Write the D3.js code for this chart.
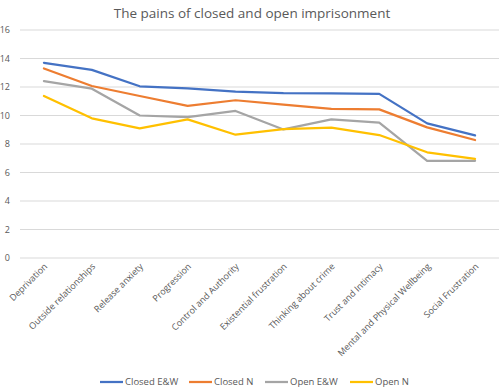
<!DOCTYPE html>
<html>
<head>
<meta charset="utf-8">
<script src="https://cdn.jsdelivr.net/npm/d3@7"></script>
<style>
  body { margin: 0; background: #fff; }
  text { font-family: "Open Sans", "Liberation Sans", sans-serif; }
</style>
</head>
<body>
<div id="chart"></div>
<script>
const categories = ["Deprivation", "Outside relationships", "Release anxiety", "Progression",
  "Control and Authority", "Existential frustration", "Thinking about crime",
  "Trust and Intimacy", "Mental and Physical Wellbeing", "Social Frustration"];

const closedEW = [13.7, 13.2, 12.05, 11.9, 11.67, 11.57, 11.55, 11.52, 9.45, 8.6];
const closedN = [13.3, 12.07, 11.37, 10.67, 11.07, 10.76, 10.46, 10.43, 9.17, 8.28];
const openEW = [12.42, 11.88, 10.0, 9.88, 10.32, 9.02, 9.73, 9.5, 6.82, 6.82];
const openN = [11.37, 9.8, 9.1, 9.73, 8.65, 9.05, 9.15, 8.63, 7.42, 6.95];

const yTicks = [0, 2, 4, 6, 8, 10, 12, 14, 16];

const series = [
  { name: "Closed E&W", values: closedEW, color: "#4472C4" },
  { name: "Closed N", values: closedN, color: "#ED7D31" },
  { name: "Open E&W", values: openEW, color: "#A5A5A5" },
  { name: "Open N", values: openN, color: "#FFC000" }
];

const width = 500, height = 388;

const svg = d3.select("#chart")
  .append("svg")
  .attr("width", width)
  .attr("height", height);

const x = d3.scalePoint()
  .domain(categories)
  .range([20, 499])
  .padding(0.5);

const y = d3.scaleLinear()
  .domain([0, 16])
  .range([258, 30]);

// title
svg.append("text")
  .attr("x", 252)
  .attr("y", 18)
  .attr("text-anchor", "middle")
  .attr("font-size", 13.5)
  .attr("fill", "#595959")
  .text("The pains of closed and open imprisonment");

// gridlines + y labels
svg.append("g")
  .selectAll("line")
  .data(yTicks)
  .enter().append("line")
  .attr("x1", 20)
  .attr("x2", 499)
  .attr("y1", d => y(d))
  .attr("y2", d => y(d))
  .attr("stroke", "#D9D9D9")
  .attr("stroke-width", 1);

svg.append("g")
  .selectAll("text")
  .data(yTicks)
  .enter().append("text")
  .attr("x", 10)
  .attr("y", d => y(d))
  .attr("dy", "0.35em")
  .attr("text-anchor", "end")
  .attr("font-size", 9)
  .attr("fill", "#595959")
  .text(d => d);

// x labels
svg.append("g")
  .selectAll("text")
  .data(categories)
  .enter().append("text")
  .attr("transform", d => `translate(${x(d) + 4},${y(0) + 9}) rotate(-45)`)
  .attr("text-anchor", "end")
  .attr("font-size", 9)
  .attr("fill", "#595959")
  .text(d => d);

// lines
const line = d3.line()
  .x((d, i) => x(categories[i]))
  .y(d => y(d));

svg.append("g")
  .selectAll("path")
  .data(series)
  .enter().append("path")
  .attr("d", d => line(d.values))
  .attr("fill", "none")
  .attr("stroke", d => d.color)
  .attr("stroke-width", 2.25)
  .attr("stroke-linejoin", "round")
  .attr("stroke-linecap", "round");

// legend
const legendStarts = [100, 189, 265, 350];
const legend = svg.append("g")
  .selectAll("g")
  .data(series)
  .enter().append("g")
  .attr("transform", (d, i) => `translate(${legendStarts[i]},382)`);

legend.append("line")
  .attr("x1", 0)
  .attr("x2", 23)
  .attr("stroke", d => d.color)
  .attr("stroke-width", 2.25);

legend.append("text")
  .attr("x", 25)
  .attr("dy", "0.35em")
  .attr("font-size", 9.5)
  .attr("fill", "#595959")
  .text(d => d.name);
</script>
</body>
</html>
